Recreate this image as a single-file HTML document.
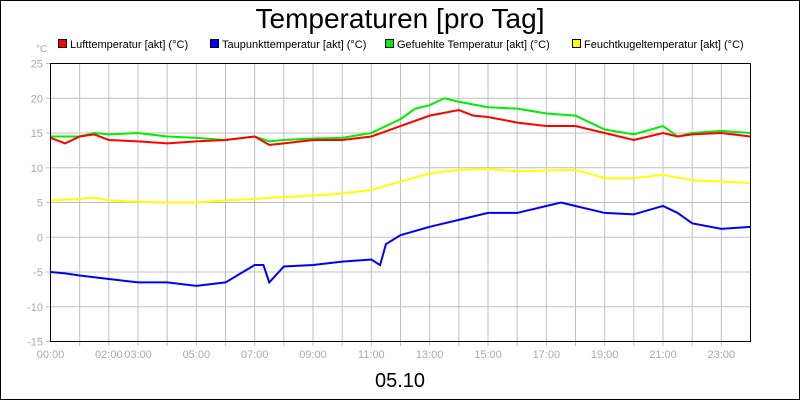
<!DOCTYPE html>
<html><head><meta charset="utf-8"><style>
body{margin:0;background:#fff}
svg{display:block;font-family:"Liberation Sans",sans-serif}
</style></head><body>
<svg id="c" width="800" height="400">
<rect x="0.5" y="0.5" width="799" height="399" fill="#fff" stroke="#000"/>
<text x="400" y="28" font-size="28" text-anchor="middle">Temperaturen [pro Tag]</text>
<text x="36" y="52" font-size="10" fill="#aaa">°C</text>
<g id="grid"></g><g id="series"></g>
<rect x="50.5" y="63.5" width="700" height="278" fill="none" stroke="#000"/>
<text x="400" y="387" font-size="20" text-anchor="middle">05.10</text>
<g id="legend"></g>
</svg>
<script>
const yTicks=[25,20,15,10,5,0,-5,-10,-15];
const xTickHours=[0,2,3,5,7,9,11,13,15,17,19,21,23];
const xTickLabels=["00:00","02:00","03:00","05:00","07:00","09:00","11:00","13:00","15:00","17:00","19:00","21:00","23:00"];
const seriesNames=["Lufttemperatur [akt] (°C)","Taupunkttemperatur [akt] (°C)","Gefuehlte Temperatur [akt] (°C)","Feuchtkugeltemperatur [akt] (°C)"];
const seriesColors=["#ff0000","#0000ff","#00ee00","#ffff00"];
const luftT=[0,0.5,1,1.5,2,3,4,5,6,7,7.5,8,9,10,11,12,13,14,14.5,15,16,17,18,19,20,21,21.5,22,23,24];
const luftV=[14.3,13.5,14.5,14.8,14,13.8,13.5,13.8,14,14.5,13.3,13.5,14,14,14.5,16,17.5,18.3,17.5,17.3,16.5,16,16,15,14,15,14.5,14.8,15,14.5];
const tauT=[0,0.5,1,2,3,4,5,6,6.8,7,7.3,7.5,8,9,10,11,11.3,11.5,12,13,14,15,16,17,17.5,18,19,20,21,21.5,22,23,24];
const tauV=[-5,-5.2,-5.5,-6,-6.5,-6.5,-7,-6.5,-4.5,-4,-4,-6.5,-4.2,-4,-3.5,-3.2,-4,-1,0.3,1.5,2.5,3.5,3.5,4.5,5,4.5,3.5,3.3,4.5,3.5,2,1.2,1.5];
const gefT=[0,1,1.5,2,3,4,5,6,7,7.5,8,9,10,11,12,12.5,13,13.5,14,15,16,17,18,18.5,19,20,21,21.5,22,23,24];
const gefV=[14.5,14.5,15,14.8,15,14.5,14.3,14,14.5,13.8,14,14.2,14.3,15,17,18.5,19,20,19.5,18.7,18.5,17.8,17.5,16.5,15.5,14.8,16,14.5,15,15.3,15];
const feuT=[0,1,1.5,2,3,4,5,6,7,8,9,10,11,12,13,14,15,16,17,18,19,20,21,22,23,24];
const feuV=[5.3,5.5,5.7,5.3,5.1,5,5,5.3,5.5,5.8,6,6.3,6.8,8,9.2,9.7,9.8,9.5,9.6,9.7,8.5,8.5,9,8.2,8,7.8];
const X=h=>50.5+h*700/24, Y=v=>63.5+(25-v)*278/40;
const NS="http://www.w3.org/2000/svg";
function mk(t,a,p){const e=document.createElementNS(NS,t);for(const k in a)e.setAttribute(k,a[k]);p.appendChild(e);return e;}
const grid=document.getElementById('grid');
for(let h=1;h<24;h++){const l=mk('line',{x1:X(h),x2:X(h),y1:63.5,y2:346,stroke:'#c0c0c0'},grid);

}
yTicks.forEach(v=>{const l=mk('line',{x1:46,x2:750,y1:Y(v),y2:Y(v),stroke:'#c0c0c0'},grid);


const t=mk('text',{x:43,y:Y(v)+4,'font-size':11,fill:'#aaa','text-anchor':'end'},grid);t.textContent=v;

});
xTickHours.forEach((h,i)=>{const t=mk('text',{x:X(h),y:358,'font-size':11,fill:'#aaa','text-anchor':'middle'},grid);t.textContent=xTickLabels[i];

});
const sg=document.getElementById('series');
[[tauT,tauV,1],[feuT,feuV,3],[gefT,gefV,2],[luftT,luftV,0]].forEach(([ts,vs,i])=>{
const p=mk('polyline',{points:ts.map((t,j)=>X(t)+','+Y(vs[j])).join(' '),fill:'none',stroke:seriesColors[i],'stroke-width':2},sg);

});
const lg=document.getElementById('legend');const lx=[58,210,385,572];
seriesNames.forEach((n,i)=>{const g=mk('g',{},lg);


mk('rect',{x:lx[i]+0.5,y:39.5,width:8,height:8,fill:seriesColors[i],stroke:'#000'},g);
const t=mk('text',{x:lx[i]+12,y:48,'font-size':11},g);t.textContent=n;});
</script>
</body></html>
